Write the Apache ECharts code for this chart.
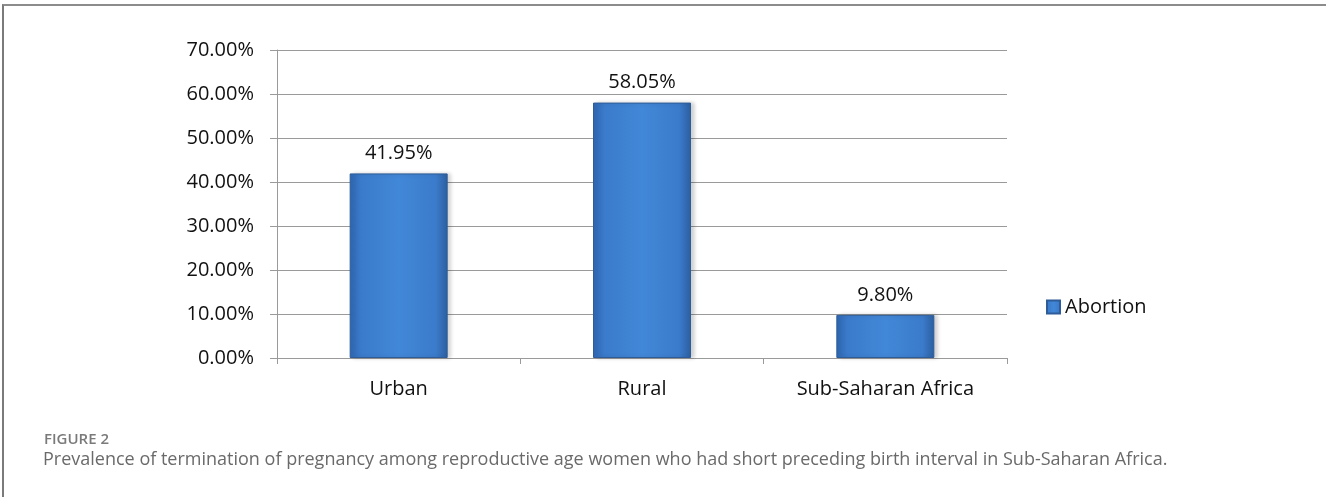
<!DOCTYPE html>
<html>
<head>
<meta charset="utf-8">
<script src="https://cdn.jsdelivr.net/npm/echarts@6/dist/echarts.min.js"></script>
<style>
  html, body { margin: 0; padding: 0; background: #fff; }
  #frame { position: absolute; left: 2px; top: 4px; width: 1324px; height: 493px;
           border-top: 2px solid #8c8c8c; border-left: 2px solid #7a7a7a; box-sizing: border-box; }
  #chart { position: absolute; left: 0; top: 0; width: 1326px; height: 497px; }
</style>
</head>
<body>
<div id="frame"></div>
<div id="chart"></div>
<script>
const categories = ['Urban', 'Rural', 'Sub-Saharan Africa'];
const abortion = [41.95, 58.05, 9.80];
const seriesName = 'Abortion';
const figureLabel = 'FIGURE 2';
const caption = 'Prevalence of termination of pregnancy among reproductive age women who had short preceding birth interval in Sub-Saharan Africa.';

const chart = echarts.init(document.getElementById('chart'), null, { renderer: 'canvas' });
const font = 'Open Sans';
const barColor = {
  type: 'linear', x: 0, y: 0, x2: 1, y2: 0,
  colorStops: [
    { offset: 0, color: '#2f68b3' },
    { offset: 0.12, color: '#3b7bcb' },
    { offset: 0.5, color: '#4288d8' },
    { offset: 0.88, color: '#3b7bcb' },
    { offset: 1, color: '#2c5f9f' }
  ]
};
chart.setOption({
  animation: false,
  title: [
    { text: figureLabel, left: 39, top: 427,
      textStyle: { fontFamily: font, fontSize: 15, fontWeight: 600, color: '#7a7a7a' } },
    { text: caption, left: 38, top: 446,
      textStyle: { fontFamily: font, fontSize: 18, fontWeight: 'normal', color: '#6a6a6a' } }
  ],
  legend: {
    data: [seriesName], left: 1046, top: 297, orient: 'vertical', padding: 0,
    itemWidth: 13, itemHeight: 13, itemGap: 5,
    textStyle: { fontFamily: font, fontSize: 20, color: '#111' },
    icon: 'rect'
  },
  grid: { left: 277, right: 319, top: 50, bottom: 139, containLabel: false },
  xAxis: {
    type: 'category', data: categories,
    axisLine: { lineStyle: { color: '#9a9a9a', width: 1 } },
    axisTick: { show: true, length: 6, lineStyle: { color: '#9a9a9a' } },
    axisLabel: { fontFamily: font, fontSize: 20, color: '#111', margin: 21 }
  },
  yAxis: {
    type: 'value', min: 0, max: 70, interval: 10,
    axisLine: { show: true, lineStyle: { color: '#9a9a9a', width: 1 } },
    axisTick: { show: true, length: 7, lineStyle: { color: '#9a9a9a' } },
    splitLine: { lineStyle: { color: '#9a9a9a', width: 1 } },
    axisLabel: { fontFamily: font, fontSize: 20, color: '#111', margin: 23,
                 formatter: v => v.toFixed(2) + '%' }
  },
  series: [{
    name: seriesName, type: 'bar', data: abortion, barWidth: 98,
    itemStyle: { color: barColor, borderColor: '#2d5c98', borderWidth: 1,
                 shadowColor: 'rgba(0,0,0,0.18)', shadowBlur: 4, shadowOffsetX: 3, shadowOffsetY: 0 },
    label: { show: true, position: 'top', distance: 10, fontFamily: font, fontSize: 20, color: '#111',
             formatter: p => p.value.toFixed(2) + '%' }
  }]
});
</script>
</body>
</html>
